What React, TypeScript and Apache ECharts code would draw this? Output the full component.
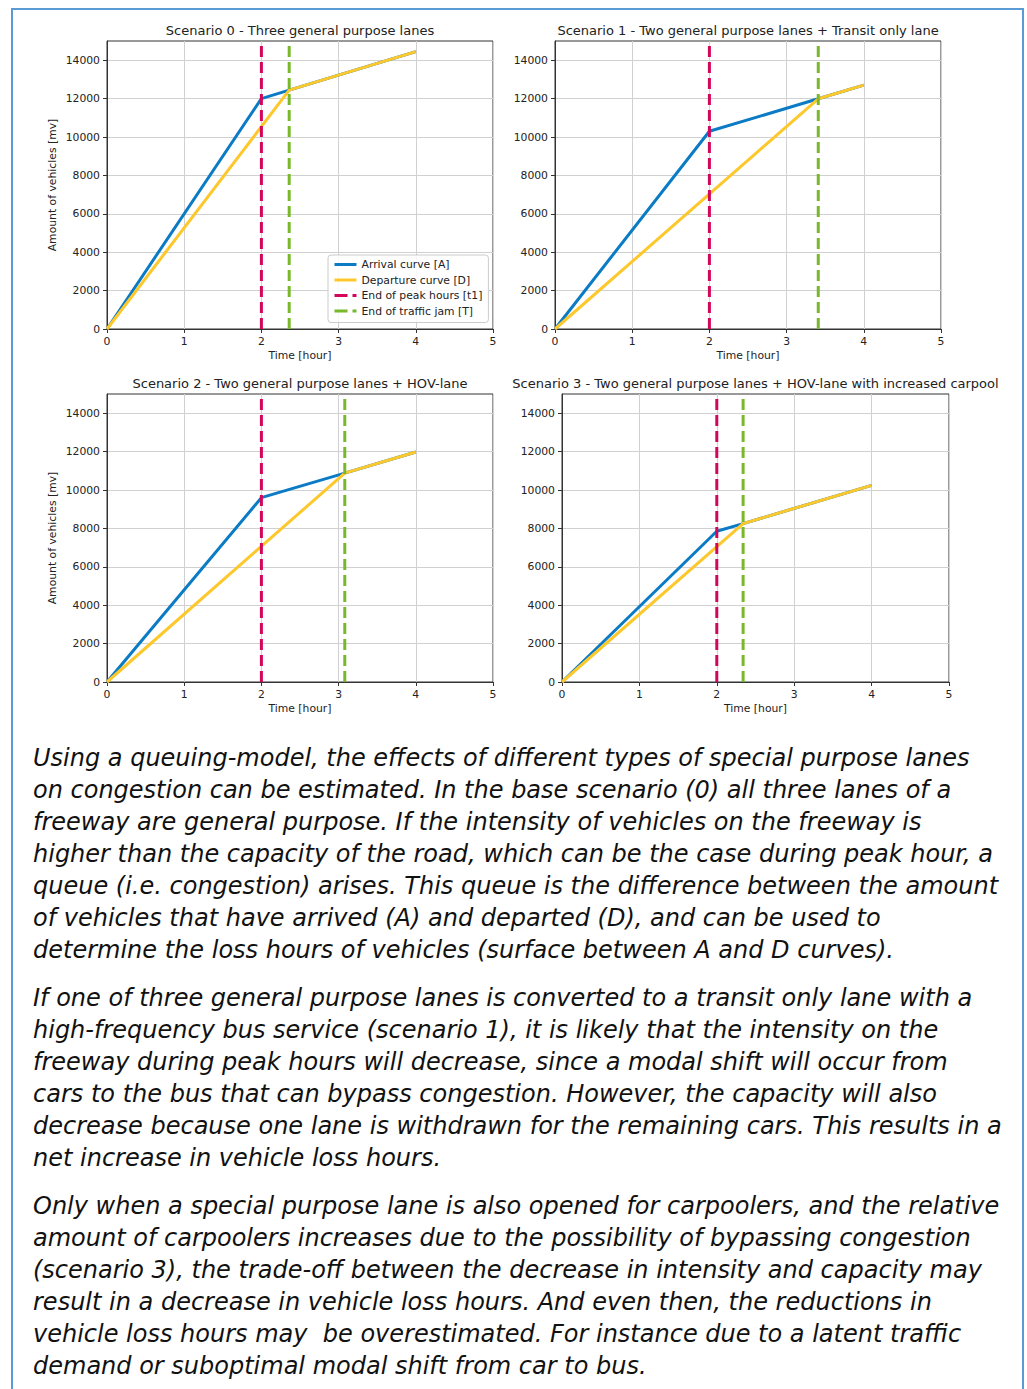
import React, { useEffect, useRef } from "react";
import * as echarts from "echarts";

const scenarioTitles = [
  "Scenario 0 - Three general purpose lanes",
  "Scenario 1 - Two general purpose lanes + Transit only lane",
  "Scenario 2 - Two general purpose lanes + HOV-lane",
  "Scenario 3 - Two general purpose lanes + HOV-lane with increased carpool",
];
const startHour = 0;
const endHour = 4;
const peakEndHours = [2, 2, 2, 2];
const jamEndHours = [2.36, 3.41, 3.08, 2.34];
const arrivalAtPeakEnd = [12000, 10300, 9600, 7850];
const countAtJamEnd = [12440, 11990, 10880, 8250];
const countAtEnd = [14450, 12700, 11980, 10240];
const yTicks = [0, 2000, 4000, 6000, 8000, 10000, 12000, 14000];
const xTicks = [0, 1, 2, 3, 4, 5];
const yMax = 15000;
const seriesNames = [
  "Arrival curve [A]",
  "Departure curve [D]",
  "End of peak hours [t1]",
  "End of traffic jam [T]",
];
const yAxisName = "Amount of vehicles [mv]";
const xAxisName = "Time [hour]";

const paragraph1 = [
  "Using a queuing-model, the effects of different types of special purpose lanes",
  "on congestion can be estimated. In the base scenario (0) all three lanes of a",
  "freeway are general purpose. If the intensity of vehicles on the freeway is",
  "higher than the capacity of the road, which can be the case during peak hour, a",
  "queue (i.e. congestion) arises. This queue is the difference between the amount",
  "of vehicles that have arrived (A) and departed (D), and can be used to",
  "determine the loss hours of vehicles (surface between A and D curves).",
];
const paragraph2 = [
  "If one of three general purpose lanes is converted to a transit only lane with a",
  "high-frequency bus service (scenario 1), it is likely that the intensity on the",
  "freeway during peak hours will decrease, since a modal shift will occur from",
  "cars to the bus that can bypass congestion. However, the capacity will also",
  "decrease because one lane is withdrawn for the remaining cars. This results in a",
  "net increase in vehicle loss hours.",
];
const paragraph3 = [
  "Only when a special purpose lane is also opened for carpoolers, and the relative",
  "amount of carpoolers increases due to the possibility of bypassing congestion",
  "(scenario 3), the trade-off between the decrease in intensity and capacity may",
  "result in a decrease in vehicle loss hours. And even then, the reductions in",
  "vehicle loss hours may  be overestimated. For instance due to a latent traffic",
  "demand or suboptimal modal shift from car to bus.",
];

const COLORS = {
  arrival: "#0a7bc4",
  departure: "#fcc82c",
  peak: "#d4065c",
  jam: "#79b82a",
};
const FONT = "DejaVu Sans";

const grids = [
  { left: 107, top: 41, width: 386, height: 288 },
  { left: 555, top: 41, width: 386, height: 288 },
  { left: 107, top: 394, width: 386, height: 288 },
  { left: 562, top: 394, width: 387, height: 288 },
];

export default function App() {
  const ref = useRef<HTMLDivElement>(null);
  useEffect(() => {
    document.body.style.margin = "0";
    const chart = echarts.init(ref.current!, null, { renderer: "svg" });

    const xAxes: any[] = [];
    const yAxes: any[] = [];
    const series: any[] = [];
    const titles: any[] = [];

    grids.forEach((g, i) => {
      titles.push({
        text: scenarioTitles[i],
        left: g.left + g.width / 2 - 5,
        top: g.top - 22,
        textAlign: "center",
        textStyle: { fontSize: 13, fontWeight: "normal", color: "#222", fontFamily: FONT },
      });
      xAxes.push({
        type: "value",
        gridIndex: i,
        min: xTicks[0],
        max: xTicks[xTicks.length - 1],
        interval: 1,
        name: xAxisName,
        nameLocation: "middle",
        nameGap: 21,
        nameTextStyle: { fontSize: 10.8, color: "#222", fontFamily: FONT },
        axisLine: { show: true, onZero: false, lineStyle: { color: "#333", width: 1 } },
        axisTick: { show: true, length: 4, lineStyle: { color: "#333" } },
        axisLabel: { margin: 7, fontSize: 10.8, color: "#222", fontFamily: FONT },
        splitLine: { show: true, lineStyle: { color: "#d0d0d0", width: 1 } },
      });
      yAxes.push({
        type: "value",
        gridIndex: i,
        min: 0,
        max: yMax,
        interval: 2000,
        name: i % 2 === 0 ? yAxisName : "",
        nameLocation: "middle",
        nameGap: 49,
        nameTextStyle: { fontSize: 10.8, color: "#222", fontFamily: FONT },
        axisLine: { show: true, onZero: false, lineStyle: { color: "#333", width: 1 } },
        axisTick: { show: true, length: 4, lineStyle: { color: "#333" }, customValues: yTicks },
        axisLabel: {
          margin: 7,
          fontSize: 10.8,
          color: "#222",
          fontFamily: FONT,
          customValues: yTicks,
          formatter: (v: number) => String(v),
        },
        splitLine: { show: true, lineStyle: { color: "#d0d0d0", width: 1 } },
      });
      const base = {
        type: "line",
        xAxisIndex: i,
        yAxisIndex: i,
        symbol: "none",
        showSymbol: false,
        silent: true,
      };
      series.push({
        ...base,
        name: seriesNames[0],
        color: COLORS.arrival,
        z: 2,
        lineStyle: { color: COLORS.arrival, width: 3 },
        data: [
          [startHour, 0],
          [peakEndHours[i], arrivalAtPeakEnd[i]],
          [jamEndHours[i], countAtJamEnd[i]],
          [endHour, countAtEnd[i]],
        ],
      });
      series.push({
        ...base,
        name: seriesNames[1],
        color: COLORS.departure,
        z: 3,
        lineStyle: { color: COLORS.departure, width: 3 },
        data: [
          [startHour, 0],
          [jamEndHours[i], countAtJamEnd[i]],
          [endHour, countAtEnd[i]],
        ],
      });
      series.push({
        ...base,
        name: seriesNames[2],
        color: COLORS.peak,
        z: 4,
        lineStyle: { color: COLORS.peak, width: 3, type: [11, 5] },
        data: [
          [peakEndHours[i], 0],
          [peakEndHours[i], yMax],
        ],
      });
      series.push({
        ...base,
        name: seriesNames[3],
        color: COLORS.jam,
        z: 4,
        lineStyle: { color: COLORS.jam, width: 3, type: [11, 5] },
        data: [
          [jamEndHours[i], 0],
          [jamEndHours[i], yMax],
        ],
      });
    });

    const graphics: any[] = [
      {
        type: "rect",
        shape: { x: 12, y: 9, width: 1011, height: 1420 },
        style: { fill: "none", stroke: "#5b9bd5", lineWidth: 2 },
        silent: true,
      },
    ];
    const addParagraph = (lines: string[], y0: number) => {
      lines.forEach((line, k) => {
        graphics.push({
          type: "text",
          x: 33,
          y: y0 + k * 32,
          silent: true,
          style: {
            text: line,
            fontSize: 24,
            fontStyle: "italic",
            fontFamily: FONT,
            fill: "#111",
            verticalAlign: "middle",
          },
        });
      });
    };
    addParagraph(paragraph1, 758);
    addParagraph(paragraph2, 998);
    addParagraph(paragraph3, 1206);

    const legendLine = (name: string, color: string, dashed: boolean) => ({
      name,
      lineStyle: { color, width: 3, type: dashed ? [13, 5] : "solid" },
    });

    chart.setOption({
      animation: false,
      backgroundColor: "#ffffff",
      title: titles,
      grid: grids.map((g) => ({ ...g, show: true, borderColor: "#333", borderWidth: 1, containLabel: false })),
      xAxis: xAxes,
      yAxis: yAxes,
      legend: {
        data: [
          legendLine(seriesNames[0], COLORS.arrival, false),
          legendLine(seriesNames[1], COLORS.departure, false),
          legendLine(seriesNames[2], COLORS.peak, true),
          legendLine(seriesNames[3], COLORS.jam, true),
        ],
        left: 328,
        top: 255,
        orient: "vertical",
        itemWidth: 22,
        itemHeight: 12,
        itemGap: 4.5,
        padding: [4, 6, 6, 5],
        backgroundColor: "rgba(255,255,255,0.85)",
        borderColor: "#cccccc",
        borderWidth: 1,
        borderRadius: 3,
        selectedMode: false,
        itemStyle: { opacity: 0, borderWidth: 0 },
        textStyle: { fontSize: 10.8, color: "#222", fontFamily: FONT },
      },
      series,
      graphic: graphics,
    });
    return () => chart.dispose();
  }, []);
  return <div ref={ref} style={{ width: 1027, height: 1389 }} />;
}
